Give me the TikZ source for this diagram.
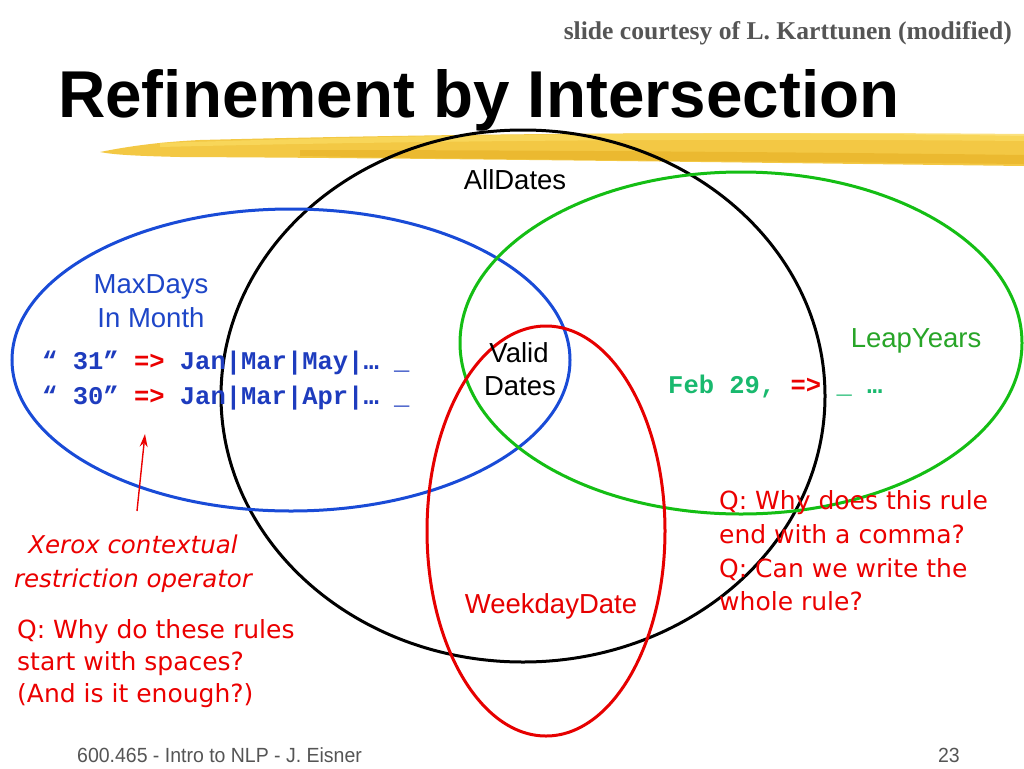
\documentclass[tikz,border=0pt]{standalone}
\usepackage{fontspec}
\setmainfont{Liberation Sans}
\newfontfamily\monofont{Liberation Mono}
\newfontfamily\timesfont{Liberation Serif}
\newfontfamily\verdfont{DejaVu Sans}
\usetikzlibrary{shapes.geometric,arrows.meta}
\definecolor{setblue}{RGB}{25,75,215}
\definecolor{setgreen}{RGB}{20,190,20}
\definecolor{setred}{RGB}{230,0,0}
\definecolor{lblblue}{RGB}{30,70,200}
\definecolor{lblgreen}{RGB}{40,165,40}
\definecolor{ruleblue}{RGB}{30,60,190}
\definecolor{rulegreen}{RGB}{25,185,110}
\definecolor{qred}{RGB}{235,0,0}
\definecolor{footgray}{RGB}{85,85,85}
\definecolor{brushA}{RGB}{242,195,48}
\definecolor{brushB}{RGB}{250,218,95}
\definecolor{brushC}{RGB}{228,172,30}
\begin{document}
\begin{tikzpicture}[x=1pt,y=-1pt,
  setring/.style={ellipse, draw, line width=3pt, inner sep=0pt},
  lbl/.style={inner sep=0pt, anchor=base, font=\fontsize{27.5}{31}\selectfont},
  rulecode/.style={inner sep=0pt, anchor=base west, font=\monofont\bfseries\fontsize{25.5}{30}\selectfont},
  qline/.style={inner sep=0pt, anchor=base west, text=qred, font=\verdfont\fontsize{25}{30}\selectfont},
  xline/.style={inner sep=0pt, anchor=base, text=qred, font=\verdfont\itshape\fontsize{24.5}{30}\selectfont},
  foot/.style={inner sep=0pt, text=footgray, font=\fontsize{20.5}{24}\selectfont},
]
\useasboundingbox (0,0) rectangle (1024,768);
\fill[white] (0,0) rectangle (1024,768);

% header
\node[inner sep=0pt, anchor=base east, text=footgray] (courtesy) at (1012,40)
  {\resizebox{448pt}{!}{\timesfont\bfseries\fontsize{25}{30}\selectfont slide courtesy of L. Karttunen (modified)}};
\node[inner sep=0pt, anchor=base west] (title) at (58,117)
  {\resizebox{841pt}{48pt}{\bfseries Refinement by Intersection}};

% brush stroke
\fill[brushA, opacity=0.9] (100,152) .. controls (130,146) and (160,142) .. (200,140)
  .. controls (400,135) and (700,130) .. (1024,136)
  -- (1024,166) .. controls (700,162) and (400,158) .. (180,157)
  .. controls (140,156) and (115,155) .. (100,152) -- cycle;
\fill[brushC, opacity=0.5] (300,150) .. controls (500,150) and (800,152) .. (1024,155)
  -- (1024,164) .. controls (700,161) and (450,159) .. (300,156) -- cycle;
\fill[brushB, opacity=0.8] (160,143) .. controls (400,135) and (700,131) .. (1024,134)
  -- (1024,141) .. controls (700,138) and (400,141) .. (160,147) -- cycle;

% sets
\node[setring, draw=black, minimum width=604pt, minimum height=532pt] (alldates) at (523,396) {};
\node[setring, draw=setblue, minimum width=558pt, minimum height=302pt] (maxdays) at (291,360) {};
\node[setring, draw=setgreen, minimum width=562pt, minimum height=342pt] (leapyears) at (741,343) {};
\node[setring, draw=setred, minimum width=238pt, minimum height=410pt] (weekday) at (546,531) {};

% set labels
\node[lbl] (lblall) at (515,189) {AllDates};
\node[lbl, text=lblblue] (lblmax1) at (151,293) {MaxDays};
\node[lbl, text=lblblue] (lblmax2) at (151,327) {In Month};
\node[lbl] (lblvalid1) at (519,362) {Valid};
\node[lbl] (lblvalid2) at (520,395) {Dates};
\node[lbl, text=lblgreen] (lblleap) at (916,347) {LeapYears};
\node[lbl, text=setred] (lblweek) at (551,613) {WeekdayDate};

% rules
\node[rulecode, text=ruleblue] (rule31) at (42,369) {“ 31” \textcolor{qred}{=>} Jan|Mar|May|… \_};
\node[rulecode, text=ruleblue] (rule30) at (42,404) {“ 30” \textcolor{qred}{=>} Jan|Mar|Apr|… \_};
\node[rulecode, text=rulegreen] (rulefeb) at (668,393) {Feb 29, \textcolor{qred}{=>} \_ …};

% annotation arrow
\coordinate (arrowtail) at (137,511);
\coordinate (arrowtip) at (145,434);
\draw[qred, line width=1.4pt, -{Stealth[length=13pt,width=8pt]}] (arrowtail) -- (arrowtip);
\node[xline] (xerox1) at (133,553) {Xerox contextual};
\node[xline] (xerox2) at (133,587) {restriction operator};

% questions
\node[qline] (qa1) at (17,638) {Q: Why do these rules};
\node[qline] (qa2) at (17,670) {start with spaces?};
\node[qline] (qa3) at (17,702) {(And is it enough?)};
\node[qline] (qb1) at (719,509) {Q: Why does this rule};
\node[qline] (qb2) at (719,543) {end with a comma?};
\node[qline] (qb3) at (719,577) {Q: Can we write the};
\node[qline] (qb4) at (719,610) {whole rule?};

% footer
\node[foot, anchor=base west] (footer) at (77,762) {\scalebox{0.95}[1]{600.465 - Intro to NLP - J. Eisner}};
\node[foot, anchor=base east] (pagenum) at (960,762) {\scalebox{0.95}[1]{23}};
\end{tikzpicture}
\end{document}
